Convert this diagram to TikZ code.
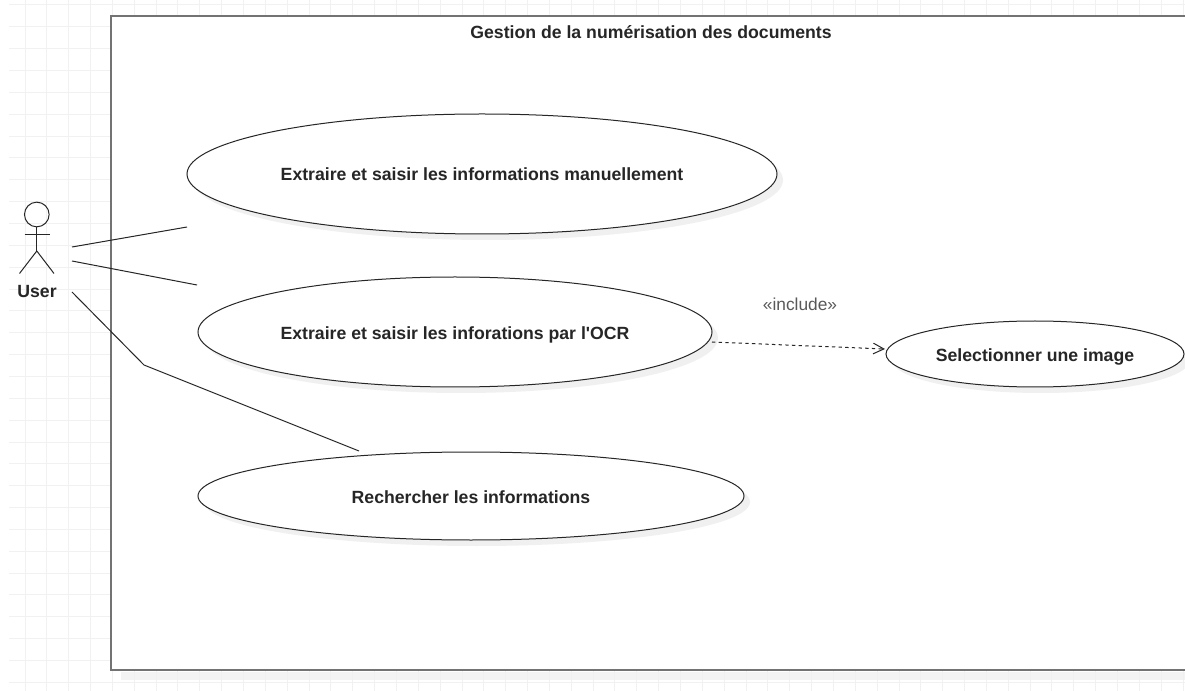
\documentclass[tikz,border=0pt]{standalone}
\usepackage{fontspec}
\newfontfamily\lsans{Liberation Sans}
\usetikzlibrary{shapes.geometric,arrows.meta}
\definecolor{gridc}{HTML}{F1F1F1}
\definecolor{shad}{HTML}{F0F0F0}
\tikzset{
  px/.style={x=0.75pt,y=-0.75pt},
  usecase/.style={ellipse,draw=black!85,fill=white,line width=0.75pt,inner sep=0pt},
  casetext/.style={inner sep=0pt,font=\lsans\fontsize{13.25pt}{15pt}\selectfont\bfseries,text=black!85},
  caseshadow/.style={ellipse,fill=shad,inner sep=0pt},
  assoc/.style={draw=black!85,line width=0.75pt},
  incl/.style={draw=black!85,line width=0.75pt,dash pattern=on 2.5pt off 2.5pt,-{Straight Barb[length=8pt,width=8pt]}},
  stick/.style={draw=black!85,line width=0.75pt},
  gridline/.style={draw=gridc,line width=0.75pt},
  frame/.style={draw=black!55,line width=1.5pt},
  title/.style={font=\lsans\fontsize{13.25pt}{15pt}\selectfont\bfseries,text=black!85},
  lbl/.style={font=\lsans\fontsize{13pt}{15pt}\selectfont,text=black!65},
}
\newcommand{\ucase}[7]{%
  % name, cx, cy, rx, ry, text, text y
  \node[caseshadow,minimum width={1.5pt*#4},minimum height={1.5pt*#5}] (#1s) at ({#2+6},{#3+6}) {};
  \node[usecase,minimum width={1.5pt*#4},minimum height={1.5pt*#5}] (#1) at (#2,#3) {};
  \node[casetext] (#1t) at (#2,#7) {#6};
}
\begin{document}
\begin{tikzpicture}[px]
\useasboundingbox (0,0) rectangle (1185,691);
\fill[white] (0,0) rectangle (1185,691);
% grid
\foreach \k in {0,...,53} {\draw[gridline] ({25+21.85*\k},0) -- ({25+21.85*\k},691);}
\foreach \k in {0,...,31} {\draw[gridline] (9,{5+21.85*\k}) -- (1185,{5+21.85*\k});}
% frame
\fill[shad,opacity=0.8] (121,672) rectangle (1185,680);
\fill[white] (111,16) rectangle (1185,670);
\draw[frame] (1187,16) -- (111,16) -- (111,670) -- (1187,670);
\node[title] (ttl) at (651,32.5) {Gestion de la numérisation des documents};
% use cases
\ucase{ucA}{482}{174}{295}{60}{Extraire et saisir les informations manuellement}{174.5}
\ucase{ucB}{455}{332}{257}{55}{Extraire et saisir les inforations par l'OCR}{335}
\ucase{ucC}{1035}{354}{149}{33}{Selectionner une image}{357}
\ucase{ucD}{471}{496}{273}{44}{Rechercher les informations}{497}
% actor
\node[circle,stick,minimum size=18.5pt,inner sep=0pt] (head) at (36.8,214.5) {};
\coordinate (hip) at (36.8,251);
\coordinate (armL) at (24.5,235);
\coordinate (armR) at (49.5,235);
\coordinate (legL) at (19.5,273.5);
\coordinate (legR) at (54,273.5);
\draw[stick] (head.south) -- (hip);
\draw[stick] (armL) -- (armR);
\draw[stick] (legL) -- (hip) -- (legR);
\node[title] (user) at (37,292) {User};
% connectors
\coordinate (a1) at (72,247);
\coordinate (a2) at (187,227);
\coordinate (b1) at (72,261);
\coordinate (b2) at (197,285);
\coordinate (c1) at (72,292);
\coordinate (c2) at (144,365);
\coordinate (c3) at (359,451);
\coordinate (d1) at (712,342);
\coordinate (d2) at (885,349);
\draw[assoc] (a1) -- (a2);
\draw[assoc] (b1) -- (b2);
\draw[assoc] (c1) -- (c2) -- (c3);
\draw[incl] (d1) -- (d2);
\node[lbl] (inc) at (800,304) {«include»};
\end{tikzpicture}
\end{document}
